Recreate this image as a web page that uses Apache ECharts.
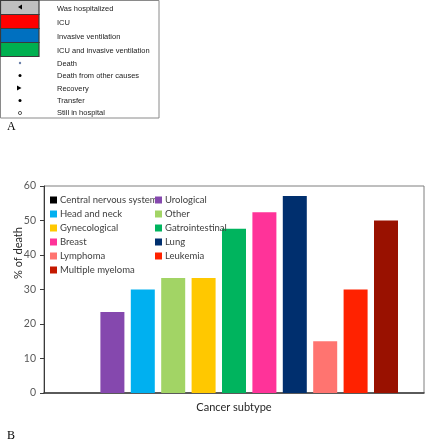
<!DOCTYPE html>
<html>
<head>
<meta charset="utf-8">
<script src="https://cdn.jsdelivr.net/npm/echarts@6/dist/echarts.min.js"></script>
<style>html,body{margin:0;padding:0;background:#fff}#c{width:426px;height:440px}</style>
</head>
<body>
<div id="c"></div>
<script>
const categories = ['Central nervous system','Urological','Head and neck','Other','Gynecological','Gatrointestinal','Breast','Lung','Lymphoma','Leukemia','Multiple myeloma'];
const deathPct = [0, 23.5, 30, 33.3, 33.3, 47.6, 52.4, 57.1, 15, 30, 50];
const barColors = ['#000000','#8548AE','#00B0F0','#A2D465','#FFC800','#00B45E','#FF3399','#002F6E','#FF7470','#FF2200','#991100'];
const legendColors = ['#000000','#8548AE','#00B0F0','#A2D465','#FFC800','#00B45E','#FF3399','#002F6E','#FF7470','#FF2200','#C41800'];
const yTicks = {min: 0, max: 60, interval: 10};
const legendA = ['Was hospitalized','ICU','Invasive ventilation','ICU and invasive ventilation','Death','Death from other causes','Recovery','Transfer','Still in hospital'];

const chart = echarts.init(document.getElementById('c'), null, {renderer: 'canvas'});
const FONT = 'Lato';

const series = categories.map((name, i) => ({
  type: 'bar', name, data: [[i, deathPct[i]]], barWidth: 24, barGap: '-100%',
  itemStyle: {color: barColors[i]}
}));

const col1 = categories.filter((_, i) => i % 2 === 0);
const col2 = categories.filter((_, i) => i % 2 === 1);
const legendItem = n => ({name: n, itemStyle: {color: legendColors[categories.indexOf(n)]}});
const legendCommon = {
  orient: 'vertical', top: 194, itemWidth: 7, itemHeight: 7, itemGap: 2, icon: 'rect', padding: 0,
  textStyle: {fontFamily: FONT, fontSize: 9.5, color: '#404040', lineHeight: 12, padding: [0, 0, 0, -2]}, selectedMode: false
};

// Panel A graphic (legend key)
const g = [];
g.push({type: 'rect', shape: {x: 0.5, y: 0.5, width: 158.5, height: 117.5}, style: {fill: '#fff', stroke: '#8a8a8a', lineWidth: 1}});
const boxCols = ['#BFBFBF', '#FF0000', '#0070C0', '#00B050'];
boxCols.forEach((c, i) => g.push({type: 'rect', shape: {x: 0.5, y: 0.5 + i * 14, width: 38.5, height: 14}, style: {fill: c, stroke: '#3a3a3a', lineWidth: 1.2}}));
const rowY = [9, 23, 37, 51, 64, 76, 89, 101, 113];
legendA.forEach((t, i) => g.push({type: 'text', x: 57, y: rowY[i], style: {text: t, fontFamily: 'Liberation Sans', fontSize: 7.5, fill: '#222', textVerticalAlign: 'middle'}}));
// symbols
g.push({type: 'polygon', shape: {points: [[18, 7], [22, 4.5], [22, 9.5]]}, style: {fill: '#000'}});
g.push({type: 'circle', shape: {cx: 20, cy: 63, r: 1.2}, style: {fill: '#6a7fa8'}});
g.push({type: 'circle', shape: {cx: 20, cy: 75.5, r: 1.5}, style: {fill: '#000'}});
g.push({type: 'polygon', shape: {points: [[17, 85.5], [21.5, 88], [17, 90.5]]}, style: {fill: '#000'}});
g.push({type: 'circle', shape: {cx: 20, cy: 100.5, r: 1.5}, style: {fill: '#000'}});
g.push({type: 'circle', shape: {cx: 20, cy: 113, r: 1.6}, style: {fill: '#fff', stroke: '#333', lineWidth: 0.8}});
g.push({type: 'text', x: 7, y: 127, style: {text: 'A', fontFamily: 'Liberation Serif', fontSize: 12, fill: '#000', textVerticalAlign: 'middle'}});
g.push({type: 'text', x: 7, y: 436, style: {text: 'B', fontFamily: 'Liberation Serif', fontSize: 12, fill: '#000', textVerticalAlign: 'middle'}});
g.push({type: 'text', x: 18, y: 253, rotation: Math.PI / 2, style: {text: '% of death', fontFamily: FONT, fontSize: 11, fill: '#262626', textAlign: 'center', textVerticalAlign: 'middle'}});

chart.setOption({
  animation: false,
  backgroundColor: '#fff',
  grid: {left: 44, right: 2, top: 186, bottom: 47, show: true, borderColor: '#7f7f7f', borderWidth: 1, backgroundColor: 'transparent', containLabel: false},
  xAxis: {
    type: 'value', min: -1.25, max: 11.25,
    axisLabel: {show: false}, axisTick: {show: false}, splitLine: {show: false},
    axisLine: {show: true, onZero: false, lineStyle: {color: '#3a3a3a', width: 1.5}},
    name: 'Cancer subtype', nameLocation: 'middle', nameGap: 9,
    nameTextStyle: {fontFamily: FONT, fontSize: 11, color: '#262626'}
  },
  yAxis: {
    type: 'value', min: yTicks.min, max: yTicks.max, interval: yTicks.interval,
    splitLine: {show: false},
    axisLine: {show: true, onZero: false, lineStyle: {color: '#3a3a3a', width: 1}},
    axisTick: {show: true, inside: false, length: 4, lineStyle: {color: '#3a3a3a'}},
    axisLabel: {fontFamily: FONT, fontSize: 10.5, color: '#595959', margin: 8}
  },
  legend: [
    Object.assign({}, legendCommon, {left: 50, data: col1.map(legendItem)}),
    Object.assign({}, legendCommon, {left: 155, data: col2.map(legendItem)})
  ],
  series,
  graphic: g
});
</script>
</body>
</html>
